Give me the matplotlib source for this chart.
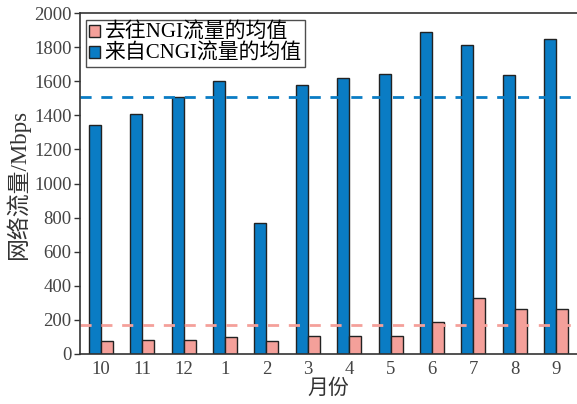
import matplotlib.pyplot as plt
import numpy as np
from matplotlib.patches import Patch

plt.rcParams['font.family'] = ['Liberation Serif', 'Noto Sans CJK SC']

months = ['10', '11', '12', '1', '2', '3', '4', '5', '6', '7', '8', '9']
cngi_in = [1345, 1410, 1510, 1600, 770, 1580, 1620, 1645, 1890, 1810, 1635, 1845]
ngi_out = [78, 80, 80, 98, 78, 108, 106, 108, 188, 330, 262, 265]
cngi_mean = 1510
ngi_mean = 170

blue = '#0a7cc4'
pink = '#f4a09a'

fig = plt.figure(figsize=(5.77, 4.04), dpi=100)
ax = fig.add_axes([80 / 577, 1 - 354 / 404, 1 - 80 / 577, (354 - 13) / 404])

x = np.arange(len(months))
w = 0.29
ax.bar(x - w / 2, cngi_in, w, color=blue, edgecolor='#222222', linewidth=1)
ax.bar(x + w / 2, ngi_out, w, color=pink, edgecolor='#222222', linewidth=1)

# mean lines
ax.axhline(cngi_mean, color=blue, lw=2, linestyle=(0, (4, 3.5)))
ax.axhline(ngi_mean, color=pink, lw=2, linestyle=(0, (4, 3.5)))

ax.set_xlim(-0.5, 11.5)
ax.set_ylim(0, 2000)
ax.set_yticks(range(0, 2001, 200))
ax.set_xticks(x)
ax.set_xticklabels(months)
ax.tick_params(axis='y', direction='out', length=4, width=1, labelsize=13.5, pad=2, colors='#333333')
ax.tick_params(axis='x', length=0, labelsize=13.5, pad=5, colors='#333333')
for lab in ax.get_yticklabels() + ax.get_xticklabels():
    lab.set_color('#444444')

ax.spines['right'].set_visible(False)
for s in ['left', 'top', 'bottom']:
    ax.spines[s].set_color('#333333')
    ax.spines[s].set_linewidth(1.2)

ax.set_ylabel('网络流量/Mbps', fontsize=16.5, color='#333333', labelpad=3)
ax.set_xlabel('月份', fontsize=15, color='#333333', labelpad=1)

handles = [Patch(facecolor=pink, edgecolor='#222222', linewidth=1),
           Patch(facecolor=blue, edgecolor='#222222', linewidth=1)]
leg = ax.legend(handles, ['去往NGI流量的均值', '来自CNGI流量的均值'], loc='upper left',
                fontsize=15, frameon=True, fancybox=False, handlelength=0.5, handleheight=0.5,
                handletextpad=0.25, borderpad=0.15, labelspacing=0.05,
                bbox_to_anchor=(0.012, 0.98), borderaxespad=0.0)
leg.get_frame().set_edgecolor('#222222')
leg.get_frame().set_linewidth(1)

fig.savefig('out.png', dpi=100)
